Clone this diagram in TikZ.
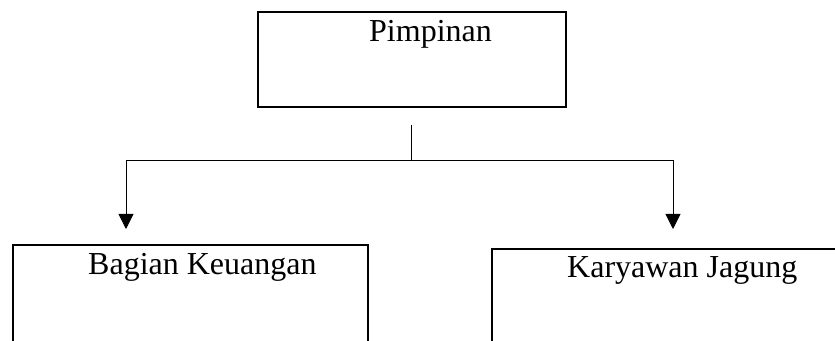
\documentclass[tikz,border=0pt]{standalone}
\usepackage{fontspec}
\setmainfont{Liberation Serif}
\usetikzlibrary{arrows.meta}
\begin{document}
\begin{tikzpicture}[x=1pt,y=1pt,
  boxA/.style={draw, line width=1.3pt, inner sep=0pt, rectangle},
  boxB/.style={draw, line width=1.7pt, inner sep=0pt, rectangle},
  lbl/.style={font=\fontsize{32}{38}\selectfont, inner sep=0pt, anchor=base west},
  conn/.style={line width=0.8pt},
  arr/.style={line width=0.8pt, -{Triangle[width=15pt,length=15pt]}}]
\useasboundingbox (0,0) rectangle (835,340);
\clip (0,0) rectangle (835,340);
% boxes
\node[boxA, minimum width=308pt, minimum height=95pt] (pim) at (412,280.5) {};
\node[boxB, minimum width=355pt, minimum height=135pt] (keu) at (190.5,27.5) {};
\node[boxB, minimum width=370pt, minimum height=135pt] (kar) at (677,23.5) {};
% labels
\node[lbl] (tpim) at (369,298) {Pimpinan};
\node[lbl] (tkeu) at (88,65) {Bagian Keuangan};
\node[lbl] (tkar) at (567,62) {Karyawan Jagung};
% connectors
\coordinate (c1) at (411,215);
\coordinate (j) at (411,180);
\coordinate (jl) at (126,180);
\coordinate (jr) at (673,180);
\coordinate (al) at (126,111);
\coordinate (ar) at (673,111);
\draw[conn] (c1) -- (j);
\draw[conn] (jl) -- (jr);
\draw[arr] (jl) -- (al);
\draw[arr] (jr) -- (ar);
\end{tikzpicture}
\end{document}
